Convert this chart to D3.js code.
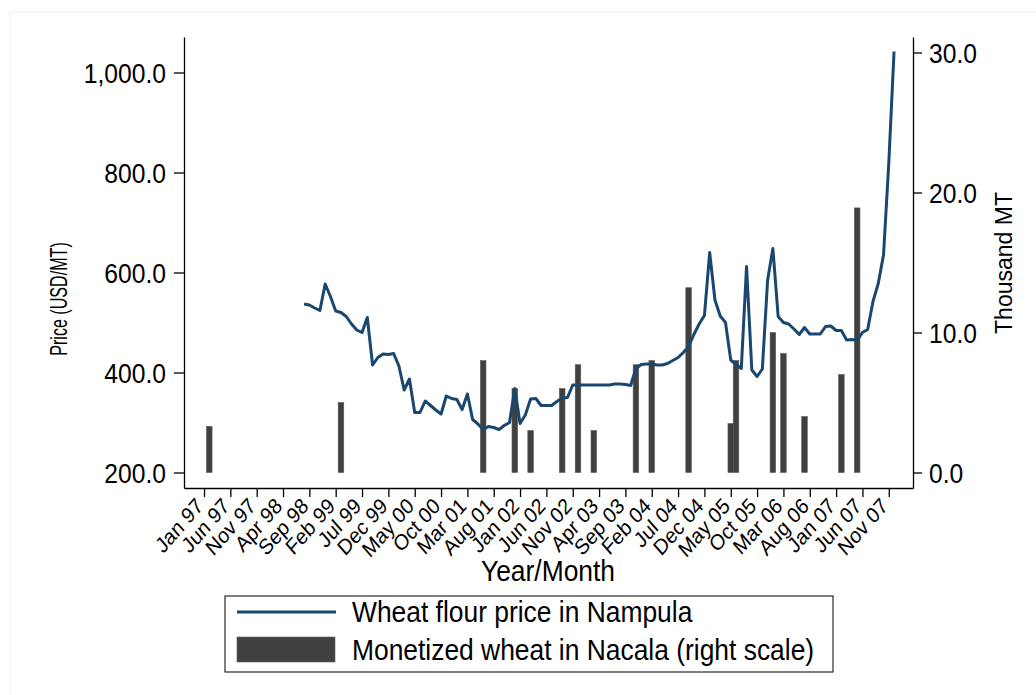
<!DOCTYPE html>
<html>
<head>
<meta charset="utf-8">
<script src="https://cdn.jsdelivr.net/npm/d3@7"></script>
<style>
  body { margin: 0; background: #fff; }
  svg { display: block; font-family: "Liberation Sans", Arial, Helvetica, sans-serif; }
  .axis path, .axis line { stroke: #000; stroke-width: 1.3; }
  .axis text { fill: #000; }
</style>
</head>
<body>
<svg width="1036" height="695"></svg>
<script>
// tick labels on the time axis, one every 5 months starting Jan 97 (month 0)
var tickLabels = ["Jan 97", "Jun 97", "Nov 97", "Apr 98", "Sep 98", "Feb 99", "Jul 99",
  "Dec 99", "May 00", "Oct 00", "Mar 01", "Aug 01", "Jan 02", "Jun 02", "Nov 02",
  "Apr 03", "Sep 03", "Feb 04", "Jul 04", "Dec 04", "May 05", "Oct 05", "Mar 06",
  "Aug 06", "Jan 07", "Jun 07", "Nov 07"];
var tickMonths = d3.range(0, 131, 5);

// wheat flour price in Nampula (USD/MT), monthly from Aug 98 (month 19)
var priceStart = 19;
var price = [
  537, 535, 529, 524, 577, 552, 523, 520, 512, 497, 485, 480, 510,   // Aug 98 - Aug 99
  415, 430, 437, 436, 438, 413, 365, 387, 320, 320, 343, 334,        // Sep 99 - Aug 00
  325, 317, 353, 348, 346, 326, 357, 306, 297, 286, 292, 290,        // Sep 00 - Aug 01
  286, 294, 300, 368, 298, 315, 347, 348, 334, 334, 334, 342,        // Sep 01 - Aug 02
  349, 350, 375, 375, 375, 375, 375, 375, 375, 375, 377, 377,        // Sep 02 - Aug 03
  376, 374, 408, 416, 417, 417, 415, 415, 418, 424, 430, 440,        // Sep 03 - Aug 04
  452, 476, 497, 514, 640, 545, 513, 500, 425, 416, 408, 612,        // Sep 04 - Aug 05
  405, 392, 407, 585, 648, 512, 500, 497, 487, 476, 490, 477,        // Sep 05 - Aug 06
  477, 477, 492, 493, 484, 484, 465, 466, 464, 480, 486, 542,        // Sep 06 - Aug 07
  578, 635, 818, 1042                                                // Sep 07 - Dec 07
];

// monetized wheat shipments in Nacala (thousand MT)
var shipMonths = [1, 26, 53, 59, 62, 68, 71, 74, 82, 85, 92, 100, 101, 108, 110, 114, 121, 124];
var shipValues = [3.3, 5.0, 8.0, 6.0, 3.0, 6.0, 7.7, 3.0, 7.7, 8.0, 13.2, 3.5, 8.0, 10.0, 8.5, 4.0, 7.0, 18.9];

var leftTicks = [200, 400, 600, 800, 1000];
var rightTicks = [0, 10, 20, 30];

var svg = d3.select("svg");
var sx = 0.88;   // text in the original is a bit narrow

// faint outer frame
svg.append("rect")
  .attr("x", 10).attr("y", 12)
  .attr("width", 1040).attr("height", 700)
  .attr("fill", "none")
  .attr("stroke", "#edf1ef");

// plot area edges
var pLeft = 184, pRight = 913, pTop = 37, pBottom = 488;

var x = d3.scaleLinear().domain([-3.8, 134.6]).range([pLeft, pRight]);
var yL = d3.scaleLinear().domain([169, 1071]).range([pBottom, pTop]);
var yR = d3.scaleLinear().domain([-1.107, 31.107]).range([pBottom, pTop]);

// bars (right scale)
var bw = (x(1) - x(0)) * 1.06;
svg.append("g").selectAll("rect")
  .data(shipMonths)
  .enter().append("rect")
    .attr("x", function(d) { return x(d) - bw / 2; })
    .attr("y", function(d, i) { return yR(shipValues[i]); })
    .attr("width", bw)
    .attr("height", function(d, i) { return yR(0) - yR(shipValues[i]); })
    .attr("fill", "#404040")
    .attr("stroke", "#5c5c5c")
    .attr("stroke-width", 0.6);

// price line
var line = d3.line()
  .x(function(d, i) { return x(priceStart + i); })
  .y(function(d) { return yL(d); });

svg.append("path")
  .datum(price)
  .attr("d", line)
  .attr("fill", "none")
  .attr("stroke", "#1a476f")
  .attr("stroke-width", 3)
  .attr("stroke-linejoin", "round");

// left axis
var gl = svg.append("g")
  .attr("class", "axis")
  .attr("transform", "translate(" + pLeft + ",0)")
  .call(d3.axisLeft(yL).tickValues(leftTicks).tickFormat(d3.format(",.1f"))
    .tickSize(10).tickSizeOuter(0));
gl.selectAll("text")
  .attr("x", -18 / sx).attr("dy", "0.36em")
  .attr("transform", "scale(" + sx + ",1)")
  .style("font-size", "28px");

// right axis
var gr = svg.append("g")
  .attr("class", "axis")
  .attr("transform", "translate(" + pRight + ",0)")
  .call(d3.axisRight(yR).tickValues(rightTicks).tickFormat(d3.format(".1f"))
    .tickSize(9).tickSizeOuter(0));
gr.selectAll("text")
  .attr("x", 16 / sx).attr("dy", "0.36em")
  .attr("transform", "scale(" + sx + ",1)")
  .style("font-size", "28px");

// bottom axis
var gb = svg.append("g")
  .attr("class", "axis")
  .attr("transform", "translate(0," + pBottom + ")")
  .call(d3.axisBottom(x).tickValues(tickMonths)
    .tickFormat(function(d, i) { return tickLabels[i]; })
    .tickSize(9).tickSizeOuter(0));
gb.selectAll("text")
  .attr("x", 0).attr("y", 0).attr("dy", "0.35em")
  .attr("transform", "translate(-5,14) scale(" + sx + ",1) rotate(-45)")
  .style("text-anchor", "end")
  .style("font-size", "22px");

// axis titles
svg.append("text")
  .attr("transform", "translate(548,581) scale(" + sx + ",1)")
  .attr("text-anchor", "middle")
  .style("font-size", "30px")
  .text("Year/Month");

svg.append("text")
  .attr("transform", "translate(67,299) rotate(-90) scale(0.7,1)")
  .attr("text-anchor", "middle")
  .style("font-size", "23px")
  .text("Price (USD/MT)");

svg.append("text")
  .attr("transform", "translate(1012,263) rotate(-90)")
  .attr("text-anchor", "middle")
  .style("font-size", "23px")
  .text("Thousand MT");

// legend
var lg = svg.append("g");
lg.append("rect")
  .attr("x", 225).attr("y", 596)
  .attr("width", 608).attr("height", 76)
  .attr("fill", "#fff")
  .attr("stroke", "#000")
  .attr("stroke-width", 1);
lg.append("line")
  .attr("x1", 237).attr("x2", 336)
  .attr("y1", 612).attr("y2", 612)
  .attr("stroke", "#1a476f")
  .attr("stroke-width", 3);
lg.append("rect")
  .attr("x", 237).attr("y", 637)
  .attr("width", 98).attr("height", 25)
  .attr("fill", "#404040")
  .attr("stroke", "#5c5c5c")
  .attr("stroke-width", 0.6);
lg.append("text")
  .attr("transform", "translate(352,622) scale(" + sx + ",1)")
  .style("font-size", "30px")
  .text("Wheat flour price in Nampula");
lg.append("text")
  .attr("transform", "translate(352,660) scale(" + sx + ",1)")
  .style("font-size", "30px")
  .text("Monetized wheat in Nacala (right scale)");
</script>
</body>
</html>
